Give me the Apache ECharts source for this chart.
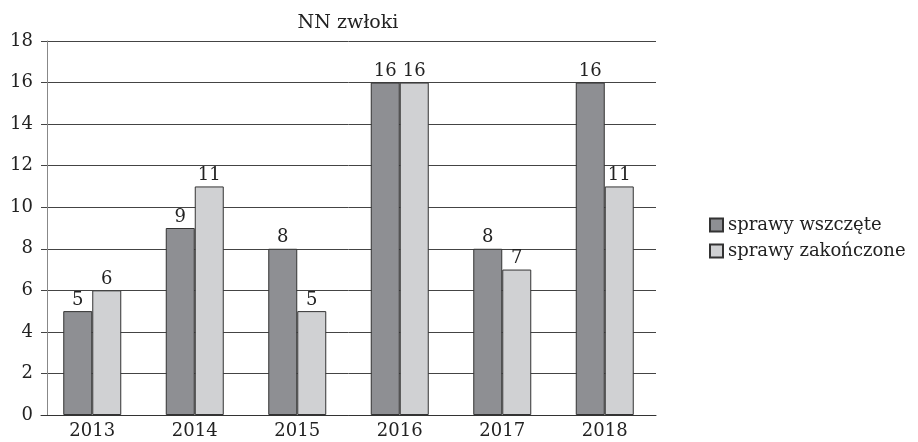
<!DOCTYPE html>
<html>
<head>
<meta charset="utf-8">
<script src="https://cdn.jsdelivr.net/npm/echarts@6/dist/echarts.min.js"></script>
<style>
  html,body{margin:0;padding:0;background:#fff;}
  #chart{width:918px;height:442px;}
</style>
</head>
<body>
<div id="chart"></div>
<script>
const years = ["2013", "2014", "2015", "2016", "2017", "2018"];
const wszczete = [5, 9, 8, 16, 8, 16];
const zakonczone = [6, 11, 5, 16, 7, 11];
const seriesNames = ["sprawy wszczęte", "sprawy zakończone"];

const font = "DejaVu Serif";
let myChart = echarts.init(document.getElementById("chart"));
myChart.setOption({
  animation: false,
  title: {
    text: "NN zwłoki",
    left: 343,
    top: 9,
    textAlign: "center",
    textStyle: { fontFamily: font, fontWeight: "normal", fontSize: 19, color: "#222" }
  },
  legend: {
    orient: "vertical",
    left: 704,
    top: 211,
    itemWidth: 13,
    itemHeight: 13,
    itemGap: 8,
    icon: "rect",
    data: seriesNames,
    textStyle: { fontFamily: font, fontSize: 18, color: "#222" }
  },
  grid: { left: 41, right: 262, top: 41, bottom: 27 },
  xAxis: {
    type: "category",
    data: years,
    axisLine: { lineStyle: { color: "#333", width: 1 } },
    axisTick: { show: false },
    axisLabel: { fontFamily: font, fontSize: 18, color: "#222", margin: 7 }
  },
  yAxis: {
    type: "value",
    min: 0,
    max: 18,
    interval: 2,
    offset: -6,
    axisLine: { show: true, lineStyle: { color: "#888", width: 1 } },
    axisTick: { show: false },
    splitLine: { lineStyle: { color: "#444", width: 1 } },
    axisLabel: { fontFamily: font, fontSize: 18, color: "#222", margin: 14 }
  },
  series: [
    {
      name: seriesNames[0],
      type: "bar",
      data: wszczete,
      barWidth: 29,
      barGap: "0%",
      itemStyle: { color: "#8e8f93", borderColor: "#333", borderWidth: 1 },
      label: { show: true, position: "top", distance: 2, fontFamily: font, fontSize: 18, color: "#222" }
    },
    {
      name: seriesNames[1],
      type: "bar",
      data: zakonczone,
      barWidth: 29,
      barGap: "0%",
      itemStyle: { color: "#d0d1d3", borderColor: "#333", borderWidth: 1 },
      label: { show: true, position: "top", distance: 2, fontFamily: font, fontSize: 18, color: "#222" }
    }
  ]
});
</script>
</body>
</html>
